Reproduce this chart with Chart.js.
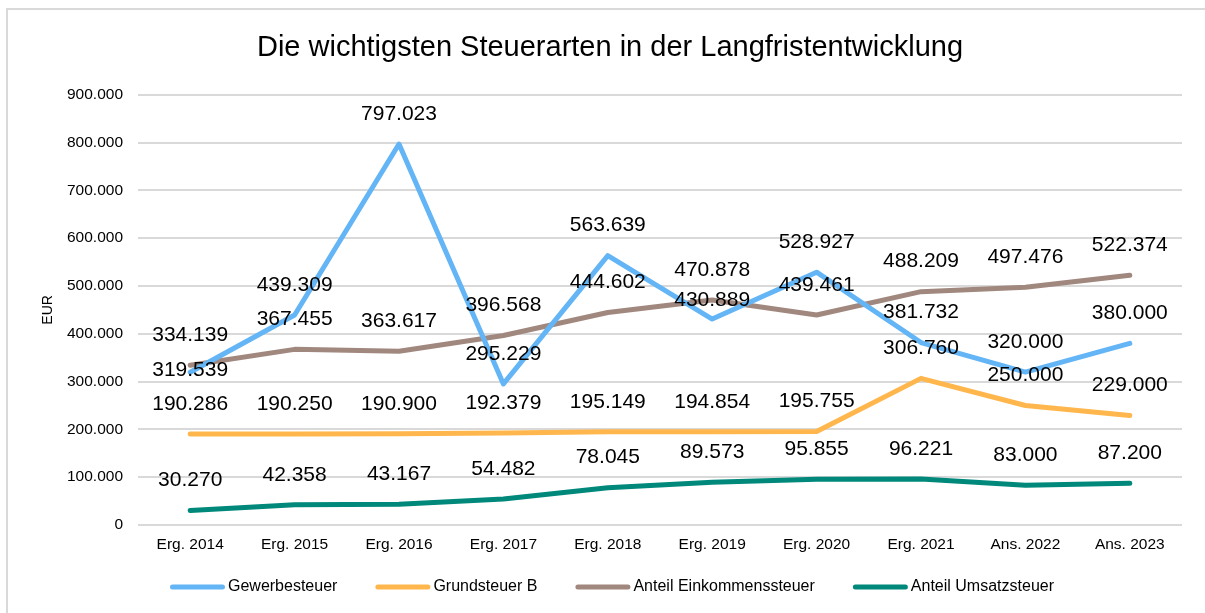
<!DOCTYPE html>
<html>
<head>
<meta charset="utf-8">
<script src="https://cdn.jsdelivr.net/npm/chart.js@4.4.0/dist/chart.umd.min.js"></script>
<style>
  html, body { margin: 0; padding: 0; background: #fff; }
  #wrap { position: relative; width: 1205px; height: 613px; }
</style>
</head>
<body>
<div id="wrap"><canvas id="chart" width="1205" height="613"></canvas></div>
<script>
// --- Data ---
const years = ["Erg. 2014", "Erg. 2015", "Erg. 2016", "Erg. 2017", "Erg. 2018", "Erg. 2019", "Erg. 2020", "Erg. 2021", "Ans. 2022", "Ans. 2023"];
const gewerbesteuer = [319539, 439309, 797023, 295229, 563639, 430889, 528927, 381732, 320000, 380000];
const grundsteuerB = [190286, 190250, 190900, 192379, 195149, 194854, 195755, 306760, 250000, 229000];
const einkommensteuer = [334139, 367455, 363617, 396568, 444602, 470878, 439461, 488209, 497476, 522374];
const umsatzsteuer = [30270, 42358, 43167, 54482, 78045, 89573, 95855, 96221, 83000, 87200];
const seriesNames = ["Gewerbesteuer", "Grundsteuer B", "Anteil Einkommenssteuer", "Anteil Umsatzsteuer"];
const seriesColors = ["#64B5F6", "#FFB74D", "#A1887F", "#00897B"];

const FONT = "'Liberation Sans', Arial, Helvetica, sans-serif";

// German thousands separator
const fmt = v => String(v).replace(/\B(?=(\d{3})+(?!\d))/g, ".");

// --- Frame (top + left rule like the original) ---
const framePlugin = {
  id: "frame",
  beforeDraw(chart) {
    const c = chart.ctx;
    c.save();
    c.strokeStyle = "#d9d9d9";
    c.lineWidth = 2;
    c.beginPath();
    c.moveTo(7, 613); c.lineTo(7, 9); c.lineTo(1205, 9);
    c.stroke();
    c.restore();
  }
};

// --- Value labels above points ---
// a couple of labels sit lower to avoid overlap (dataset -> index -> extra px)
const labelNudge = { 0: { 0: 28, 5: 11 } };
const valueLabels = {
  id: "valueLabels",
  afterDatasetsDraw(chart) {
    const c = chart.ctx;
    c.save();
    c.font = "21px " + FONT;
    c.fillStyle = "#000";
    c.textAlign = "center";
    c.textBaseline = "middle";
    chart.data.datasets.forEach((ds, di) => {
      chart.getDatasetMeta(di).data.forEach((pt, i) => {
        const extra = (labelNudge[di] && labelNudge[di][i]) || 0;
        c.fillText(fmt(ds.data[i]), pt.x, pt.y - 30 + extra);
      });
    });
    c.restore();
  }
};

// --- Legend row (Excel style: short thick line + text) ---
const legendRow = {
  id: "legendRow",
  afterDraw(chart) {
    const c = chart.ctx;
    const lineW = 50, textGap = 8, itemGap = 38, y = 587;
    c.save();
    c.font = "16px " + FONT;
    c.textBaseline = "middle";
    const items = chart.data.datasets.map(ds => ({ ds, w: c.measureText(ds.label).width }));
    const total = items.reduce((a, it) => a + lineW + textGap + it.w, 0) + itemGap * (items.length - 1);
    let x = 612 - total / 2;
    items.forEach(it => {
      c.strokeStyle = it.ds.borderColor;
      c.lineWidth = 5;
      c.lineCap = "round";
      c.beginPath();
      c.moveTo(x + 2.5, y); c.lineTo(x + lineW + 2.5, y);
      c.stroke();
      c.fillStyle = "#000";
      c.fillText(it.ds.label, x + lineW + textGap, y);
      x += lineW + textGap + it.w + itemGap;
    });
    c.restore();
  }
};

const mkDs = (label, data, color) => ({
  label, data,
  borderColor: color, backgroundColor: color,
  borderWidth: 5, pointRadius: 0, tension: 0,
  borderCapStyle: "round", borderJoinStyle: "round"
});

new Chart(document.getElementById("chart"), {
  type: "line",
  data: {
    labels: years,
    datasets: [
      mkDs(seriesNames[0], gewerbesteuer, seriesColors[0]),
      mkDs(seriesNames[1], grundsteuerB, seriesColors[1]),
      mkDs(seriesNames[2], einkommensteuer, seriesColors[2]),
      mkDs(seriesNames[3], umsatzsteuer, seriesColors[3])
    ]
  },
  options: {
    responsive: false,
    animation: false,
    layout: { padding: { top: 10, left: 38, right: 23, bottom: 48 } },
    plugins: {
      title: {
        display: true,
        text: "Die wichtigsten Steuerarten in der Langfristentwicklung",
        color: "#000",
        font: { family: FONT, size: 29, weight: "normal" },
        padding: { top: 21, bottom: 29 }
      },
      legend: { display: false },
      tooltip: { enabled: false }
    },
    scales: {
      x: {
        offset: true,
        grid: { display: false },
        border: { display: false },
        ticks: { color: "#000", font: { family: FONT, size: 15.5 }, padding: 2, maxRotation: 0 },
        afterFit(s) { s.height = 40; }
      },
      y: {
        min: 0, max: 900000,
        grid: { color: "#d9d9d9", lineWidth: 2, drawTicks: false },
        border: { display: false },
        ticks: {
          stepSize: 100000, padding: 15, color: "#000",
          font: { family: FONT, size: 15.5 },
          callback: v => fmt(v)
        },
        title: { display: true, text: "EUR", color: "#000", font: { family: FONT, size: 14 }, padding: { top: 2 } },
        afterFit(s) { s.width = 100; }
      }
    }
  },
  plugins: [framePlugin, valueLabels, legendRow]
});
</script>
</body>
</html>
